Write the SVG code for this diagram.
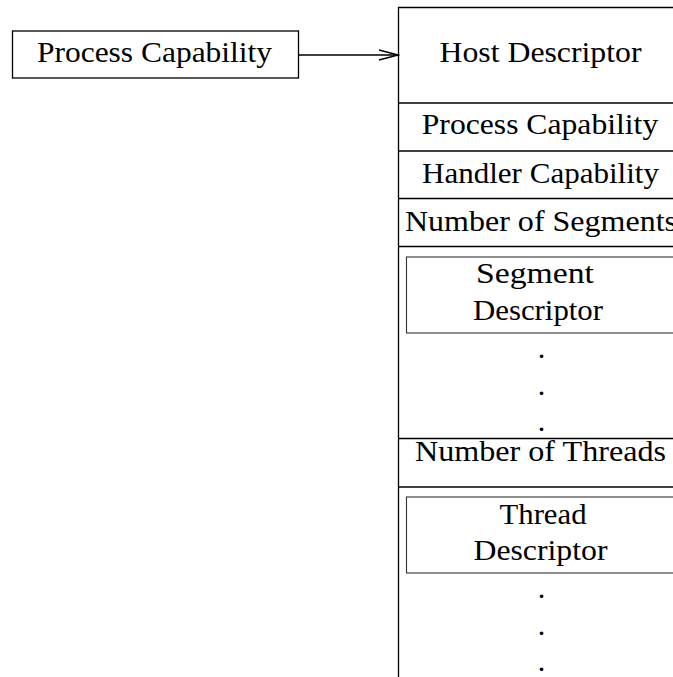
<svg xmlns="http://www.w3.org/2000/svg" width="673" height="677" viewBox="0 0 673 677">
  <style>
    .frame { fill: none; stroke: #000; stroke-width: 1.3; }
    .inner { fill: none; stroke: #333; stroke-width: 1.1; }
    .lbl { font-family: "Liberation Serif", "Times New Roman", serif; font-size: 30px; fill: #000; text-anchor: middle; }
  </style>
  <defs>
    <marker id="openArrow" markerWidth="22" markerHeight="12" refX="20" refY="6" orient="auto" markerUnits="userSpaceOnUse">
      <path d="M1,1 L20,6 L1,11" fill="none" stroke="#000" stroke-width="1.3"/>
    </marker>
  </defs>

  <rect width="673" height="677" fill="#fff"/>

  <!-- standalone capability box -->
  <g id="process-capability">
    <rect class="frame" x="12.5" y="31" width="286" height="47"/>
    <text class="lbl" x="154.5" y="61.5" textLength="235" lengthAdjust="spacingAndGlyphs">Process Capability</text>
  </g>

  <!-- host descriptor record -->
  <g id="host-descriptor">
    <path class="frame" d="M673,7.5 H398.5 V677"/>
    <text class="lbl" x="540.5" y="62" textLength="202" lengthAdjust="spacingAndGlyphs">Host Descriptor</text>
  </g>

  <g id="field-process-capability">
    <line class="frame" x1="398.5" y1="103" x2="673" y2="103"/>
    <text class="lbl" x="540" y="134" textLength="236.5" lengthAdjust="spacingAndGlyphs">Process Capability</text>
  </g>

  <g id="field-handler-capability">
    <line class="frame" x1="398.5" y1="151" x2="673" y2="151"/>
    <text class="lbl" x="540.5" y="182.5" textLength="237" lengthAdjust="spacingAndGlyphs">Handler Capability</text>
  </g>

  <g id="field-number-of-segments">
    <line class="frame" x1="398.5" y1="198.5" x2="673" y2="198.5"/>
    <text class="lbl" x="541" y="231" textLength="272" lengthAdjust="spacingAndGlyphs">Number of Segments</text>
  </g>

  <g id="segment-descriptor">
    <line class="frame" x1="398.5" y1="246.5" x2="673" y2="246.5"/>
    <rect class="inner" x="406.5" y="257" width="280" height="76"/>
    <text class="lbl" x="535" y="282.5" textLength="118" lengthAdjust="spacingAndGlyphs">Segment</text>
    <text class="lbl" x="538" y="320" textLength="130" lengthAdjust="spacingAndGlyphs">Descriptor</text>
    <text class="lbl" x="541.5" y="357.5">.</text>
    <text class="lbl" x="541.5" y="394.5">.</text>
    <text class="lbl" x="541.5" y="431">.</text>
  </g>

  <g id="field-number-of-threads">
    <line class="frame" x1="398.5" y1="438.5" x2="673" y2="438.5"/>
    <text class="lbl" x="540.5" y="461" textLength="251" lengthAdjust="spacingAndGlyphs">Number of Threads</text>
  </g>

  <g id="thread-descriptor">
    <line class="frame" x1="398.5" y1="487" x2="673" y2="487"/>
    <rect class="inner" x="406.5" y="497" width="280" height="76"/>
    <text class="lbl" x="543" y="523.5" textLength="87" lengthAdjust="spacingAndGlyphs">Thread</text>
    <text class="lbl" x="540.5" y="560" textLength="134" lengthAdjust="spacingAndGlyphs">Descriptor</text>
    <text class="lbl" x="541.5" y="597.5">.</text>
    <text class="lbl" x="541.5" y="635">.</text>
    <text class="lbl" x="541.5" y="671">.</text>
  </g>

  <!-- connectors -->
  <g id="connectors">
    <line class="frame" x1="298.5" y1="55" x2="398" y2="55" marker-end="url(#openArrow)"/>
  </g>
</svg>
